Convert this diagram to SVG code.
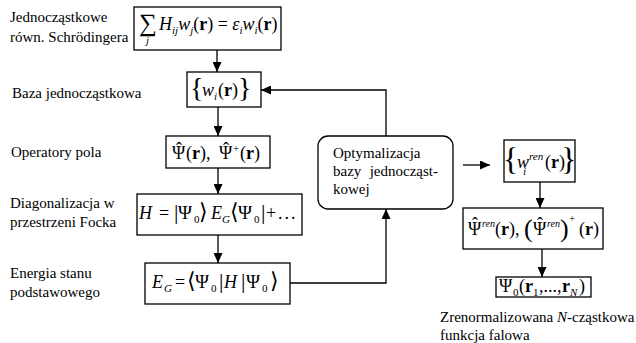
<svg xmlns="http://www.w3.org/2000/svg" width="636" height="343" viewBox="0 0 636 343">
<style>
.lbl{font-size:15px}
.m{font-size:18px}
.i{font-style:italic}
.b{font-weight:bold}
.s{font-size:11px}
.box{fill:#fff;stroke:#000;stroke-width:1.3}
.c{fill:none;stroke:#000;stroke-width:1.3}
</style>
<defs>
<marker id="ah" markerUnits="userSpaceOnUse" markerWidth="10" markerHeight="9" refX="10" refY="4.5" orient="auto">
<path d="M0,0 L10,4.5 L0,9 z" fill="#000"/>
</marker>
</defs>
<rect width="636" height="343" fill="#fff"/>

<g id="labels">
<text class="lbl" font-family="'Liberation Serif', serif" x="10" y="22">Jednocząstkowe</text>
<text class="lbl" font-family="'Liberation Serif', serif" x="10" y="42">równ. Schrödingera</text>
<text class="lbl" font-family="'Liberation Serif', serif" x="12" y="98">Baza jednocząstkowa</text>
<text class="lbl" font-family="'Liberation Serif', serif" x="11" y="157">Operatory pola</text>
<text class="lbl" font-family="'Liberation Serif', serif" x="10" y="208">Diagonalizacja w</text>
<text class="lbl" font-family="'Liberation Serif', serif" x="10" y="227">przestrzeni Focka</text>
<text class="lbl" font-family="'Liberation Serif', serif" x="10" y="278">Energia stanu</text>
<text class="lbl" font-family="'Liberation Serif', serif" x="10" y="297">podstawowego</text>
</g>

<g id="connectors">
<line class="c" x1="217" y1="50" x2="217" y2="72" marker-end="url(#ah)"/>
<line class="c" x1="218" y1="107" x2="218" y2="136" marker-end="url(#ah)"/>
<line class="c" x1="218" y1="168" x2="218" y2="194" marker-end="url(#ah)"/>
<line class="c" x1="218" y1="235" x2="218" y2="263" marker-end="url(#ah)"/>
<polyline class="c" points="290,283 386,283 386,209" marker-end="url(#ah)"/>
<polyline class="c" points="386,136 386,90 261,90" marker-end="url(#ah)"/>
<line class="c" x1="463" y1="165" x2="490" y2="165" marker-end="url(#ah)"/>
<line class="c" x1="540" y1="182" x2="540" y2="208" marker-end="url(#ah)"/>
<line class="c" x1="542" y1="249" x2="542" y2="277" marker-end="url(#ah)"/>
</g>

<g id="n1">
<rect class="box" x="134" y="7" width="147" height="43"/>
<text font-family="'Liberation Serif', serif" x="139" y="31" font-size="25">∑<tspan class="s i" x="146" y="44">j</tspan></text>
<text font-family="'Liberation Serif', serif" class="m" x="159" y="30"><tspan class="i">H</tspan><tspan class="s i" dy="4">ij</tspan><tspan class="i" dy="-4">w</tspan><tspan class="s i" dy="4">j</tspan><tspan dy="-4">(</tspan><tspan class="b">r</tspan>) = <tspan class="i">ε</tspan><tspan class="s i" dy="4">i</tspan><tspan class="i" dy="-4">w</tspan><tspan class="s i" dy="4">i</tspan><tspan dy="-4">(</tspan><tspan class="b">r</tspan>)</text>
</g>

<g id="n2">
<rect class="box" x="187" y="72" width="74" height="35"/>
<text font-family="'Liberation Serif', serif" class="m" x="190" y="97"><tspan font-size="28">{</tspan><tspan class="i" x="202" y="96">w</tspan><tspan class="s i" x="214" y="100">i</tspan><tspan x="218" y="96">(</tspan><tspan class="b">r</tspan>)<tspan font-size="28" x="238" y="97">}</tspan></text>
</g>

<g id="n3">
<rect class="box" x="166" y="136" width="104" height="32"/>
<text font-family="'Liberation Serif', serif" class="m" x="172" y="159">Ψ<tspan x="176" y="155">ˆ</tspan><tspan x="186" y="159">(</tspan><tspan class="b">r</tspan>),<tspan x="219">Ψ</tspan><tspan x="223" y="155">ˆ</tspan><tspan class="s" x="233" y="152">+</tspan><tspan x="240" y="159">(</tspan><tspan class="b">r</tspan>)</text>
</g>

<g id="n4">
<rect class="box" x="137" y="194" width="165" height="41"/>
<text font-family="'Liberation Serif', serif" class="m" x="139" y="219"><tspan class="i">H</tspan><tspan x="159">=</tspan><tspan x="174" font-size="22">|</tspan><tspan x="178" font-size="19">Ψ</tspan><tspan class="s" x="194" y="223">0</tspan><tspan x="199" y="219" font-size="22">⟩</tspan><tspan class="i" x="211">E</tspan><tspan class="s i" x="222" y="223">G</tspan><tspan x="230" y="219" font-size="22">⟨</tspan><tspan x="238" font-size="19">Ψ</tspan><tspan class="s" x="254" y="223">0</tspan><tspan x="261" y="219" font-size="22">|</tspan><tspan x="266">+</tspan><tspan x="278" letter-spacing="2">...</tspan></text>
</g>

<g id="n5">
<rect class="box" x="145" y="263" width="145" height="41"/>
<text font-family="'Liberation Serif', serif" class="m" x="152" y="288"><tspan class="i">E</tspan><tspan class="s i" x="164" y="292">G</tspan><tspan x="175" y="288">=</tspan><tspan x="187" font-size="22">⟨</tspan><tspan x="195" font-size="19">Ψ</tspan><tspan class="s" x="211" y="292">0</tspan><tspan x="219" y="288" font-size="22">|</tspan><tspan class="i" x="224">H</tspan><tspan x="241" font-size="22">|</tspan><tspan x="246" font-size="19">Ψ</tspan><tspan class="s" x="262" y="292">0</tspan><tspan x="270" y="288" font-size="22">⟩</tspan></text>
</g>

<g id="n6">
<rect class="box" x="318" y="136" width="135" height="73" rx="10" ry="10"/>
<text font-family="'Liberation Serif', serif" class="lbl" x="333" y="158">Optymalizacja</text>
<text font-family="'Liberation Serif', serif" class="lbl" x="333" y="176">bazy</text>
<text font-family="'Liberation Serif', serif" class="lbl" x="438" y="176" text-anchor="end">jednocząst-</text>
<text font-family="'Liberation Serif', serif" class="lbl" x="333" y="194">kowej</text>
</g>

<g id="n7">
<rect class="box" x="504" y="140" width="71" height="42"/>
<text font-family="'Liberation Serif', serif" class="m" x="503" y="170"><tspan font-size="32">{</tspan><tspan class="i" x="517" y="168">w</tspan><tspan class="s i" x="529" y="160">ren</tspan><tspan class="s i" x="523" y="175">i</tspan><tspan x="545" y="168">(</tspan><tspan class="b">r</tspan>)<tspan font-size="32" x="561" y="170">}</tspan></text>
</g>

<g id="n8">
<rect class="box" x="463" y="208" width="140" height="41"/>
<text font-family="'Liberation Serif', serif" class="m" x="468" y="235">Ψ<tspan x="472" y="230">ˆ</tspan><tspan class="i" font-size="10" x="482" y="227">ren</tspan><tspan x="495" y="235">(</tspan><tspan class="b">r</tspan>),<tspan font-size="26" x="524" y="237">(</tspan><tspan x="533" y="235">Ψ</tspan><tspan x="537" y="230">ˆ</tspan><tspan class="i" font-size="10" x="547" y="227">ren</tspan><tspan font-size="26" x="560" y="237">)</tspan><tspan class="s" x="569" y="222">+</tspan><tspan x="579" y="235">(</tspan><tspan class="b">r</tspan>)</text>
</g>

<g id="n9">
<rect class="box" x="496" y="277" width="95" height="20"/>
<text font-family="'Liberation Serif', serif" class="m" x="499" y="292">Ψ<tspan class="s" x="513" y="296">0</tspan><tspan x="519" y="292">(</tspan><tspan class="b">r</tspan><tspan class="s" x="533" y="296">1</tspan><tspan x="539" y="292">,...,</tspan><tspan class="b" x="562">r</tspan><tspan class="s i" x="570" y="296">N</tspan><tspan x="579" y="292">)</tspan></text>
</g>

<g id="caption">
<text font-family="'Liberation Serif', serif" class="lbl" x="440" y="322">Zrenormalizowana <tspan class="i">N</tspan>-cząstkowa</text>
<text font-family="'Liberation Serif', serif" class="lbl" x="440" y="340">funkcja falowa</text>
</g>
</svg>
